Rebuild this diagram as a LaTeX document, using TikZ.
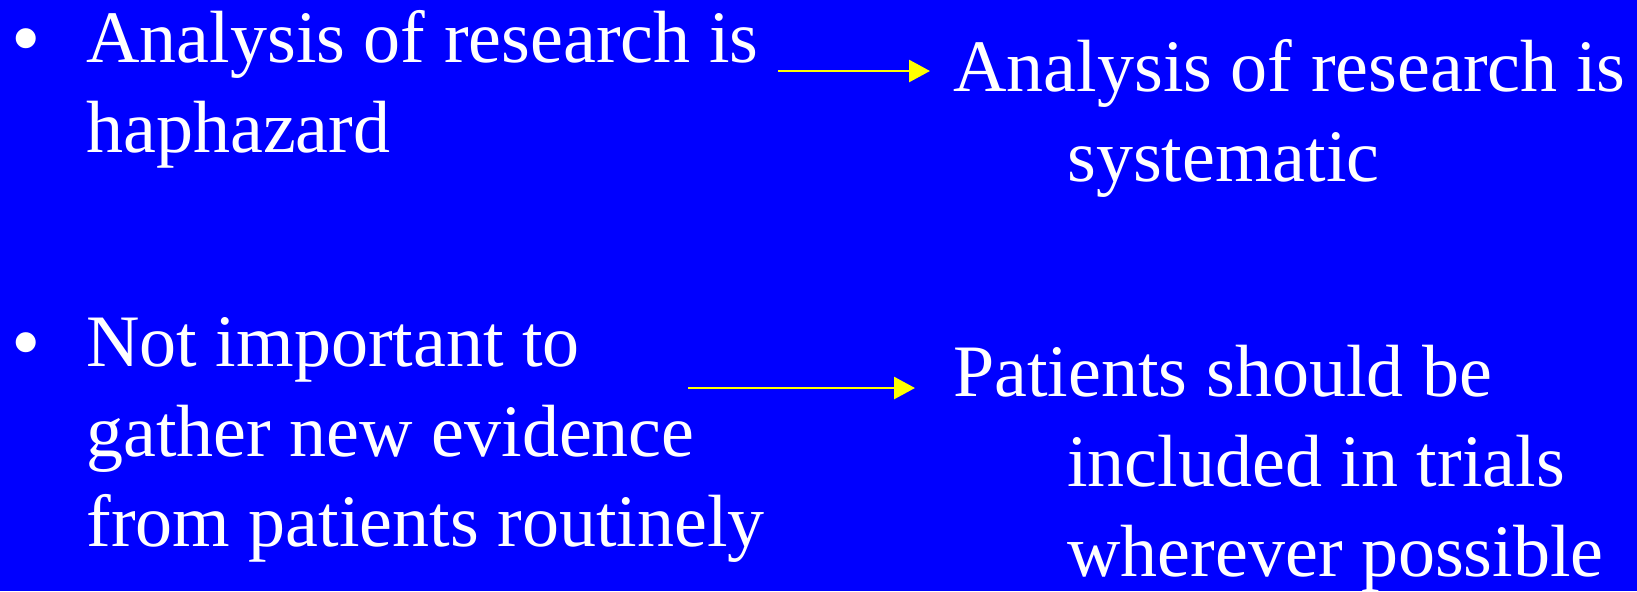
\documentclass[tikz,border=0pt]{standalone}
\usepackage{fontspec}
\setmainfont{Liberation Serif}
\usetikzlibrary{arrows.meta}

\definecolor{slideblue}{RGB}{0,0,255}
\definecolor{arrowyellow}{RGB}{255,255,0}

\tikzset{
  slidetext/.style={text=white, inner sep=0pt, align=left, anchor=base west,
    font=\fontsize{37}{45}\selectfont},
  bulletmark/.style={text=white, inner sep=0pt, anchor=base,
    font=\fontsize{42}{45}\selectfont},
  flow/.style={draw=arrowyellow, line width=1.4pt,
    -{Triangle[length=10.5pt,width=11pt,fill=arrowyellow]}}
}

\begin{document}
\begin{tikzpicture}[x=0.5pt,y=-0.5pt]
        % Slide background
        \fill[slideblue] (0,0) rectangle (1637,591);
        \useasboundingbox (0,0) rectangle (1637,591);

        % Bullets and the old view on the left (placed at their last baseline)
        \node[bulletmark] (bulletone) at (26,66) {•};
        \node[slidetext] (oldone) at (86,152) {Analysis of research is\\haphazard};
        \node[bulletmark] (bullettwo) at (26,370) {•};
        \node[slidetext] (oldtwo) at (86,546) {Not important to\\gather new evidence\\from patients routinely};

        % The new view on the right
        \node[slidetext] (newone) at (953,181) {Analysis of research is\\\hspace*{57pt}systematic};
        \node[slidetext] (newtwo) at (953,576) {Patients should be\\\hspace*{57pt}included in trials\\\hspace*{57pt}wherever possible};

        % Arrows
        \draw[flow, shorten >=11.5pt] ([xshift=9.5pt,yshift=40.5pt]oldone.base east) coordinate (tailone) -- (tailone -| newone.west);
        \draw[flow, shorten >=19pt] ([xshift=301pt,yshift=79pt]oldtwo.base west) coordinate (tailtwo) -- (tailtwo -| newtwo.west);
    \end{tikzpicture}
\end{document}
